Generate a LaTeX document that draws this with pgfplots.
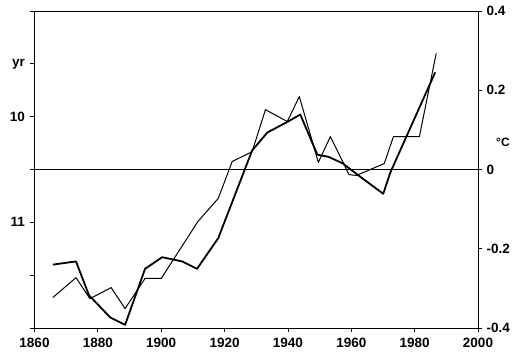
\documentclass[border=0pt]{standalone}
\usepackage{fontspec}
\setmainfont{Liberation Sans}
\usepackage{pgfplots}
\pgfplotsset{compat=1.18}
\begin{document}
\begin{tikzpicture}[x=1pt,y=1pt]
\path[use as bounding box] (0,0) rectangle (512,361);
\pgfplotsset{
  common/.style={
    at={(34.5pt,33pt)}, anchor=south west,
    scale only axis, width=443.5pt, height=317pt,
    xmin=1860, xmax=2000,
    tick align=outside,
    major tick length=4pt,
    tick style={black, line width=0.8pt},
    /pgf/number format/assume math mode=true,
    /pgf/number format/1000 sep={},
    tick label style={font=\fontsize{13.5}{15}\selectfont\bfseries},
  }
}
% left axis: solar cycle length (yr), reversed
\begin{axis}[common,
  axis line style={line width=0.9pt},
  ymin=9, ymax=12, y dir=reverse,
  ytick={9,9.5,10,10.5,11,11.5,12},
  yticklabels={,yr,10,,11,,},
  ytick pos=left,
  xtick={1860,1880,...,2000},
  xtick pos=bottom,
  xticklabel style={yshift=-3pt},
  yticklabel style={xshift=-2pt},
]
\addplot[black, line width=1.8pt, line join=round] coordinates {
(1865.8,11.40) (1873.1,11.37) (1877.2,11.69) (1883.9,11.90) (1888.6,11.97)
(1894.9,11.44) (1900.3,11.33) (1906.6,11.37) (1911.3,11.44) (1918.0,11.15)
(1928.7,10.32) (1933.5,10.15) (1939.8,10.05) (1943.9,9.98) (1949.3,10.36)
(1952.8,10.38) (1957.2,10.44) (1962.9,10.57) (1970.1,10.73) (1972.3,10.53)
(1986.5,9.58)
};
\end{axis}
% right axis: temperature (deg C)
\begin{axis}[common,
  clip=false,
  axis x line=none,
  axis y line*=right,
  axis line style={line width=0.9pt},
  ymin=-0.4, ymax=0.4,
  ytick={-0.4,-0.2,0,0.2,0.4},
  yticklabels={-0.4,-0.2,0,0.2,0.4},
  yticklabel style={xshift=1pt},
]
\addplot[black, line width=1pt] coordinates {(1860,0) (2000,0)};
\addplot[black, line width=1pt, line join=round] coordinates {
(1865.8,-0.323) (1873.1,-0.273) (1877.5,-0.326) (1884.2,-0.298) (1888.6,-0.351)
(1894.9,-0.275) (1900.0,-0.275) (1911.6,-0.131) (1918.0,-0.073) (1922.4,0.020)
(1928.7,0.045) (1932.9,0.151) (1939.8,0.121) (1943.6,0.184) (1949.6,0.018)
(1953.4,0.083) (1959.3,-0.013) (1961.6,-0.015) (1970.4,0.015) (1973.3,0.083)
(1981.5,0.083) (1986.8,0.293)
};
\node[anchor=west, inner sep=0pt, font=\fontsize{12}{14}\selectfont\bfseries] at (rel axis cs:1,0.587) [xshift=18pt] {°C};
\end{axis}
\end{tikzpicture}
\end{document}
